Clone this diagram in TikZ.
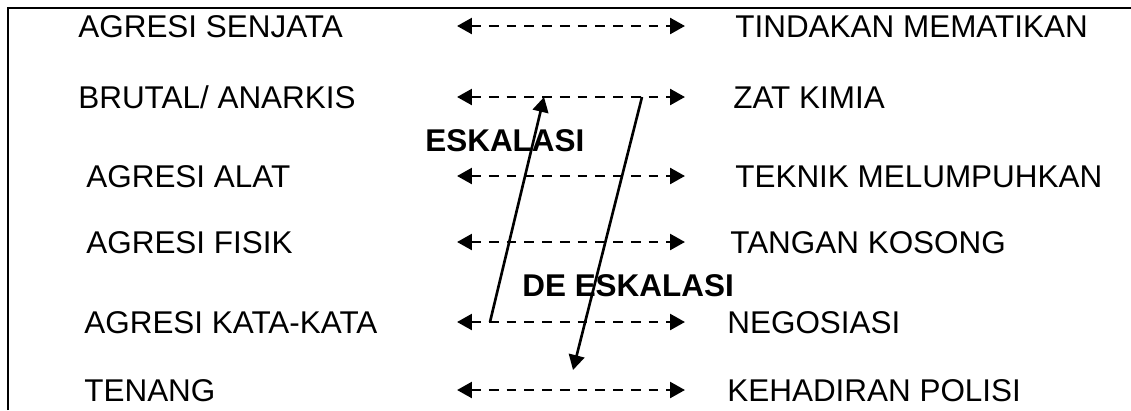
\documentclass[tikz,border=0pt]{standalone}
\usepackage{fontspec}
\setmainfont{Liberation Sans}
\usetikzlibrary{arrows.meta}
\tikzset{
  item/.style={anchor=base west, inner sep=0pt, font=\fontsize{17.9pt}{20pt}\selectfont},
  phase/.style={anchor=base west, inner sep=0pt, font=\fontsize{17.9pt}{20pt}\selectfont\bfseries},
  pair/.style={line width=1.6pt, dash pattern=on 5.5pt off 4.6pt, {Triangle[length=8.5pt,width=9pt]}-{Triangle[length=8.5pt,width=9pt]}},
  phasearrow/.style={line width=1.5pt, -{Triangle[length=8.5pt,width=9pt]}}
}
\begin{document}
\begin{tikzpicture}[x=0.02cm, y=-0.02cm]
    \useasboundingbox (0,0) rectangle (1131,410);
    \draw [line width=1.4pt] (8,410) -- (8,8) -- (1131,8);

    % left column
    \node (AgresiSenjata) [item] at (78,37) {AGRESI SENJATA};
    \node (Brutal) [item] at (78,108) {BRUTAL/ ANARKIS};
    \node (AgresiAlat) [item] at (86,187) {AGRESI ALAT};
    \node (AgresiFisik) [item] at (86,253) {AGRESI FISIK};
    \node (AgresiKata) [item] at (84,333) {AGRESI KATA-KATA};
    \node (Tenang) [item] at (84,401) {TENANG};

    % right column
    \node (Mematikan) [item] at (735,37) {TINDAKAN MEMATIKAN};
    \node (ZatKimia) [item] at (733,108) {ZAT KIMIA};
    \node (Melumpuhkan) [item] at (735,187) {TEKNIK MELUMPUHKAN};
    \node (TanganKosong) [item] at (730,253) {TANGAN KOSONG};
    \node (Negosiasi) [item] at (727,333) {NEGOSIASI};
    \node (Polisi) [item] at (727,401) {KEHADIRAN POLISI};

    \node (Eskalasi) [phase] at (425,151) {ESKALASI};
    \node (DeEskalasi) [phase] at (522,296) {DE ESKALASI};

    \coordinate (L1) at (457,26);  \coordinate (R1) at (685,26);
    \coordinate (L2) at (457,97);  \coordinate (R2) at (685,97);
    \coordinate (L3) at (457,176); \coordinate (R3) at (685,176);
    \coordinate (L4) at (457,242); \coordinate (R4) at (685,242);
    \coordinate (L5) at (457,322); \coordinate (R5) at (685,322);
    \coordinate (L6) at (457,390); \coordinate (R6) at (685,390);

    \draw [pair] (L1) -- (R1);
    \draw [pair] (L2) -- (R2);
    \draw [pair] (L3) -- (R3);
    \draw [pair] (L4) -- (R4);
    \draw [pair] (L5) -- (R5);
    \draw [pair] (L6) -- (R6);

    \coordinate (UpFrom) at (490,322);
    \coordinate (UpTo) at (544,97);
    \coordinate (DownFrom) at (642,97);
    \coordinate (DownTo) at (573,370);
    \draw [phasearrow] (UpFrom) -- (UpTo);
    \draw [phasearrow] (DownFrom) -- (DownTo);
\end{tikzpicture}
\end{document}
